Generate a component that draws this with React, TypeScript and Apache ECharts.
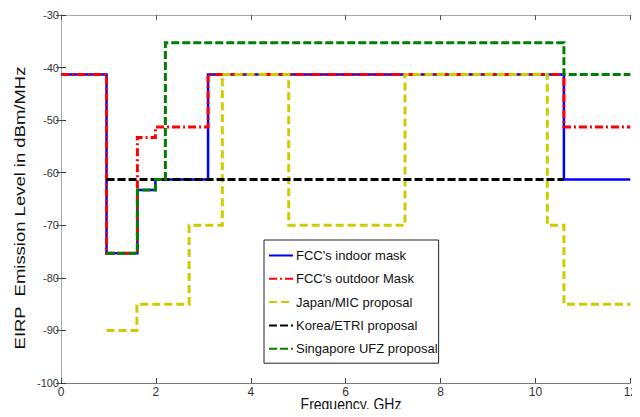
import React, { useEffect, useRef } from "react";
import * as echarts from "echarts";

const xTicks = [0, 2, 4, 6, 8, 10, 12];
const yTicks = [-100, -90, -80, -70, -60, -50, -40, -30];

const xTitle = "Frequency, GHz";
const yTitle = "EIRP  Emission Level in dBm/MHz";

const seriesNames = [
  "FCC's indoor mask",
  "FCC's outdoor Mask",
  "Japan/MIC proposal",
  "Korea/ETRI proposal",
  "Singapore UFZ proposal",
];

const fccIndoorX = [0, 0.96, 0.96, 1.61, 1.61, 1.99, 1.99, 3.1, 3.1, 10.6, 10.6, 12];
const fccIndoorY = [-41.3, -41.3, -75.3, -75.3, -63.3, -63.3, -61.3, -61.3, -41.3, -41.3, -61.3, -61.3];

const fccOutdoorX = [0, 0.96, 0.96, 1.61, 1.61, 1.99, 1.99, 3.1, 3.1, 10.6, 10.6, 12];
const fccOutdoorY = [-41.3, -41.3, -75.3, -75.3, -53.3, -53.3, -51.3, -51.3, -41.3, -41.3, -51.3, -51.3];

const japanX = [0.96, 1.6, 1.6, 2.7, 2.7, 3.4, 3.4, 4.8, 4.8, 7.25, 7.25, 10.25, 10.25, 10.6, 10.6, 12];
const japanY = [-90, -90, -85, -85, -70, -70, -41.3, -41.3, -70, -70, -41.3, -41.3, -70, -70, -85, -85];

const koreaX = [0.96, 10.6];
const koreaY = [-61.3, -61.3];

const singaporeX = [0.96, 1.61, 1.61, 1.99, 1.99, 2.2, 2.2, 10.6, 10.6, 12];
const singaporeY = [-75.3, -75.3, -63.3, -63.3, -61.3, -61.3, -35.3, -35.3, -41.3, -41.3];

const zip = (xs: number[], ys: number[]) => xs.map((x, i) => [x, ys[i]]);

export default function App() {
  const ref = useRef<HTMLDivElement>(null);
  useEffect(() => {
    if (!ref.current) return;
    const chart = echarts.init(ref.current, null, { renderer: "svg" });
    const font = "'Liberation Sans', Arial, sans-serif";
    const mk = (
      name: string,
      xs: number[],
      ys: number[],
      color: string,
      type: any,
      width: number
    ) => ({
      name,
      type: "line",
      data: zip(xs, ys),
      symbol: "none",
      showSymbol: false,
      xAxisIndex: 0,
      yAxisIndex: 0,
      lineStyle: { color, type, width, cap: "butt", join: "miter" },
      itemStyle: { color },
    });
    chart.setOption({
      animation: false,
      backgroundColor: "#fff",
      grid: { left: 61, top: 15, width: 580, height: 368, containLabel: false },
      legend: {
        show: true,
        orient: "vertical",
        left: 264,
        top: 240,
        data: seriesNames,
        backgroundColor: "#fff",
        borderColor: "#222",
        borderWidth: 1,
        padding: [9, 1, 8, 4],
        itemWidth: 24,
        itemHeight: 13,
        itemGap: 10.3,
        itemStyle: { opacity: 0 },
        lineStyle: { opacity: 1 },
        textStyle: { fontFamily: font, fontSize: 13, color: "#111", padding: [0, 0, 0, -2] },
      },
      graphic: [
        {
          type: "text",
          x: 20,
          y: 208,
          rotation: Math.PI / 2,
          scaleX: 1.32,
          style: {
            text: yTitle,
            font: `14px ${font}`,
            fill: "#111",
            align: "center",
            verticalAlign: "middle",
          },
        },
        {
          type: "text",
          x: 351,
          y: 404,
          scaleY: 1.2,
          style: {
            text: xTitle,
            font: `14px ${font}`,
            fill: "#111",
            align: "center",
            verticalAlign: "middle",
          },
        },
      ],
      xAxis: [
        {
          type: "value",
          min: 0,
          max: 12,
          interval: 2,
          position: "bottom",
          axisLine: { show: true, lineStyle: { color: "#777", width: 1 } },
          axisTick: { show: true, inside: true, length: 5, lineStyle: { color: "#444" } },
          axisLabel: { fontFamily: font, fontSize: 12, color: "#333", margin: 3, customValues: xTicks },
          splitLine: { show: false },
        },
        {
          type: "value",
          min: 0,
          max: 12,
          interval: 2,
          position: "top",
          axisLine: { show: true, lineStyle: { color: "#aaa", width: 1 } },
          axisTick: { show: true, inside: true, length: 5, lineStyle: { color: "#555" } },
          axisLabel: { show: false },
          splitLine: { show: false },
        },
      ],
      yAxis: [
        {
          type: "value",
          min: -100,
          max: -30,
          interval: 10,
          position: "left",
          axisLine: { show: true, lineStyle: { color: "#333", width: 1 } },
          axisTick: { show: true, inside: true, length: 5, lineStyle: { color: "#333" } },
          axisLabel: { fontFamily: font, fontSize: 11, color: "#333", margin: 2, customValues: yTicks },
          splitLine: { show: false },
        },
        {
          type: "value",
          min: -100,
          max: -30,
          interval: 10,
          position: "right",
          axisLine: { show: true, lineStyle: { color: "#aaa", width: 1 } },
          axisTick: { show: true, inside: true, length: 5, lineStyle: { color: "#555" } },
          axisLabel: { show: false },
          splitLine: { show: false },
        },
      ],
      series: [
        mk(seriesNames[0], fccIndoorX, fccIndoorY, "#0000ff", "solid", 2.5),
        mk(seriesNames[1], fccOutdoorX, fccOutdoorY, "#ff0000", [8, 3, 2, 3], 3),
        mk(seriesNames[2], japanX, japanY, "#cccc00", [8, 4], 3),
        mk(seriesNames[3], koreaX, koreaY, "#000000", [8, 3], 3),
        mk(seriesNames[4], singaporeX, singaporeY, "#008000", [8, 3], 3),
      ],
    });
    return () => chart.dispose();
  }, []);
  return <div ref={ref} style={{ width: 640, height: 417, margin: -8 }} />;
}
